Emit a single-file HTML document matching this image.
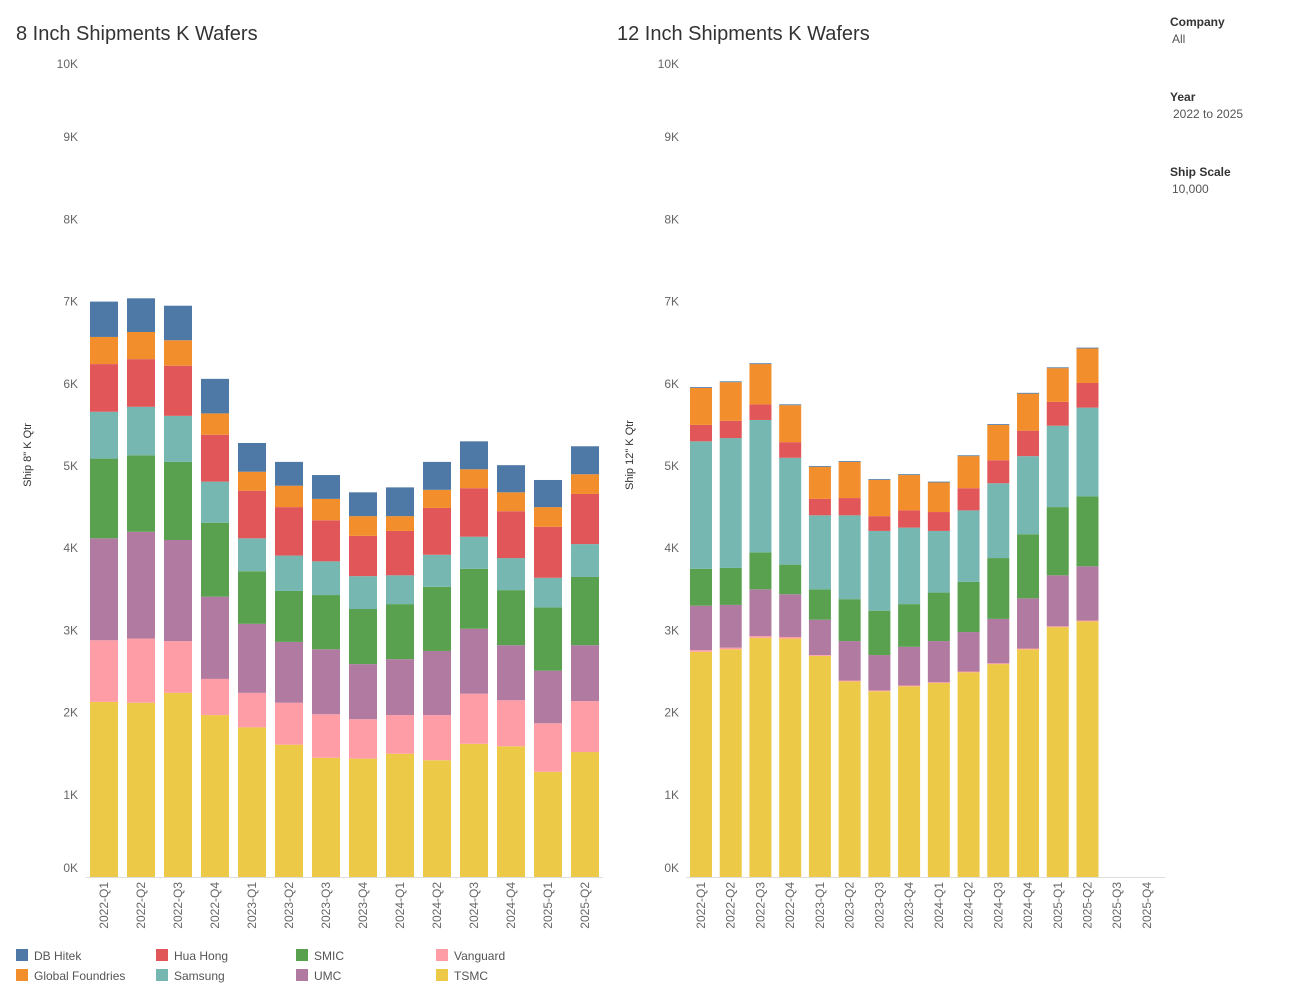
<!DOCTYPE html>
<html><head><meta charset="utf-8"><style>
body{margin:0;background:#fff;font-family:"Liberation Sans",sans-serif;}
svg text{font-family:"Liberation Sans",sans-serif;}
</style></head><body>
<svg id="c" width="1300" height="1000" xmlns="http://www.w3.org/2000/svg">
<text x="16" y="40" font-size="20" fill="#333">8 Inch Shipments K Wafers</text>
<text x="617" y="40" font-size="20" fill="#333">12 Inch Shipments K Wafers</text>
<text x="1170" y="26" font-size="12" font-weight="bold" fill="#333">Company</text>
<text x="1172" y="43" font-size="12" fill="#555">All</text>
<text x="1170" y="101" font-size="12" font-weight="bold" fill="#333">Year</text>
<text x="1173" y="118" font-size="12" fill="#555">2022 to 2025</text>
<text x="1170" y="176" font-size="12" font-weight="bold" fill="#333">Ship Scale</text>
<text x="1172" y="193" font-size="12" fill="#555">10,000</text>
<g id="legend"></g>
</svg>
<script>
const companies=["TSMC","Vanguard","UMC","SMIC","Samsung","Hua Hong","Global Foundries","DB Hitek"];
const colors=["#edc948","#ff9da7","#b07aa1","#59a14f","#76b7b2","#e15759","#f28e2b","#4e79a7"];
const yTicks=[0,1,2,3,4,5,6,7,8,9,10];
const cats8=["2022-Q1","2022-Q2","2022-Q3","2022-Q4","2023-Q1","2023-Q2","2023-Q3","2023-Q4","2024-Q1","2024-Q2","2024-Q3","2024-Q4","2025-Q1","2025-Q2"];
const cats12=["2022-Q1","2022-Q2","2022-Q3","2022-Q4","2023-Q1","2023-Q2","2023-Q3","2023-Q4","2024-Q1","2024-Q2","2024-Q3","2024-Q4","2025-Q1","2025-Q2","2025-Q3","2025-Q4"];
// 8 inch, K wafers per company (order: companies)
const tsmc8=[2.13,2.12,2.24,1.97,1.82,1.61,1.45,1.44,1.50,1.42,1.62,1.59,1.28,1.52];
const vanguard8=[.75,.78,.63,.44,.42,.51,.53,.48,.47,.55,.61,.56,.59,.62];
const umc8=[1.24,1.30,1.23,1.00,.84,.74,.79,.67,.68,.78,.79,.67,.64,.68];
const smic8=[.97,.93,.95,.90,.64,.62,.66,.67,.67,.78,.73,.67,.77,.83];
const samsung8=[.57,.59,.56,.50,.40,.43,.41,.40,.35,.39,.39,.39,.36,.40];
const huahong8=[.58,.58,.61,.57,.58,.59,.50,.49,.54,.57,.59,.57,.62,.61];
const gf8=[.33,.33,.31,.26,.23,.26,.26,.24,.18,.22,.23,.23,.24,.24];
const dbhitek8=[.43,.41,.42,.42,.35,.29,.29,.29,.35,.34,.34,.33,.33,.34];
// 12 inch
const tsmc12=[2.74,2.77,2.91,2.90,2.69,2.38,2.26,2.32,2.36,2.49,2.59,2.77,3.04,3.11,0,0];
const vanguard12=[.02,.02,.02,.02,.01,.01,.01,.01,.01,.01,.01,.01,.01,.01,0,0];
const umc12=[.54,.52,.57,.52,.43,.48,.43,.47,.50,.48,.54,.61,.62,.66,0,0];
const smic12=[.45,.45,.45,.36,.37,.51,.54,.52,.59,.61,.74,.78,.83,.85,0,0];
const samsung12=[1.55,1.58,1.61,1.30,.90,1.02,.97,.93,.75,.87,.91,.95,.99,1.08,0,0];
const huahong12=[.20,.21,.19,.19,.20,.21,.18,.21,.23,.27,.28,.31,.29,.30,0,0];
const gf12=[.45,.47,.49,.45,.39,.44,.44,.43,.36,.39,.43,.45,.41,.42,0,0];
const dbhitek12=[.01,.01,.01,.01,.01,.01,.01,.01,.01,.01,.01,.01,.01,.01,0,0];
const series8=[tsmc8,vanguard8,umc8,smic8,samsung8,huahong8,gf8,dbhitek8];
const series12=[tsmc12,vanguard12,umc12,smic12,samsung12,huahong12,gf12,dbhitek12];
const NS="http://www.w3.org/2000/svg";
const svg=document.getElementById('c');
function mk(t,a,p){const e=document.createElementNS(NS,t);for(const k in a)e.setAttribute(k,a[k]);(p||svg).appendChild(e);return e;}
const y=v=>877-v*82.2;
function chart(prefix,cats,series,x0,step,bw,axisX,lineEnd,title,titleX){
  const g=mk('g',{});
  
  
  yTicks.forEach((t,i)=>{
    let yy=y(t)+4; if(i===0)yy-=9; if(i===yTicks.length-1)yy+=9;
    const tx=mk('text',{x:axisX,y:yy,'font-size':12,fill:'#666','text-anchor':'end'},g);
    tx.textContent=t+'K';
    
    
  });
  const at=mk('text',{x:0,y:0,'font-size':11,fill:'#333','text-anchor':'middle',transform:`translate(${titleX},455) rotate(-90)`},g);
  at.textContent=title;
  
  
  cats.forEach((c,i)=>{
    const cx=x0+i*step;let cum=0;
    series.forEach((s,k)=>{
      const v=s[i];if(v<=0)return;
      const r=mk('rect',{x:cx-bw/2,y:y(cum+v),width:bw,height:y(cum)-y(cum+v),fill:colors[k]},g);
      
      
      cum+=v;
    });
    const lt=mk('text',{x:0,y:0,'font-size':12,fill:'#666','text-anchor':'end',transform:`translate(${cx+4},882) rotate(-90)`},g);
    lt.textContent=c;
    
    
  });
  const ln=mk('line',{x1:x0-step/2,x2:lineEnd,y1:877.5,y2:877.5,stroke:'#ddd'},g);
  
  
}
chart('inch8',cats8,series8,104,37,28,78,603,'Ship 8" K Qtr',31);
chart('inch12',cats12,series12,701,29.73,22,679,1165,'Ship 12" K Qtr',633);
const lg=document.getElementById('legend');


const legOrder=[7,5,3,1,6,4,2,0];
legOrder.forEach((k,i)=>{
  const col=i%4,row=Math.floor(i/4);
  const lx=16+col*140,ly=949+row*20;
  const g=mk('g',{},lg);
  
  
  mk('rect',{x:lx,y:ly,width:12,height:12,fill:colors[k]},g);
  const t=mk('text',{x:lx+18,y:ly+11,'font-size':12,fill:'#555'},g);
  t.textContent=companies[k];
});
</script>
</body></html>
